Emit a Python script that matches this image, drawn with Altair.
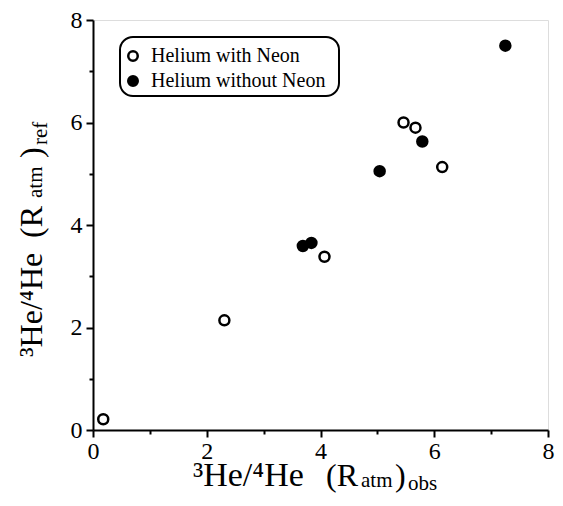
import altair as alt
import pandas as pd

# ---- data ----
series_names = ["Helium with Neon", "Helium without Neon"]
with_neon_obs = [0.18, 2.31, 4.07, 5.46, 5.67, 6.14]
with_neon_ref = [0.21, 2.14, 3.38, 6.00, 5.90, 5.13]
without_neon_obs = [3.69, 3.84, 5.04, 5.79, 7.25]
without_neon_ref = [3.59, 3.65, 5.05, 5.63, 7.50]
tick_values = [0, 1, 2, 3, 4, 5, 6, 7, 8]

df = pd.DataFrame({
    "obs": with_neon_obs + without_neon_obs,
    "ref": with_neon_ref + without_neon_ref,
    "series": [series_names[0]] * len(with_neon_obs) + [series_names[1]] * len(without_neon_obs),
})

FONT = "Liberation Serif"
W, H = 455, 410

tick_size = {"condition": {"test": "datum.value % 2 === 1", "value": 4}, "value": 7}
label_expr = "datum.value % 2 === 0 ? datum.label : ''"

def axis(pad):
    return alt.Axis(values=tick_values, labelExpr=label_expr, tickSize=tick_size,
                    labelFont=FONT, labelFontSize=24, labelColor="black",
                    domainColor="black", domainWidth=2, tickColor="black", tickWidth=2,
                    labelPadding=pad, grid=False, title=None, labelFlush=False)

points = alt.Chart(df).mark_point(shape="circle", filled=True, size=100, strokeWidth=2.5,
                                  stroke="black", opacity=1).encode(
    x=alt.X("obs:Q", scale=alt.Scale(domain=[0, 8], nice=False, zero=False), axis=axis(2)),
    y=alt.Y("ref:Q", scale=alt.Scale(domain=[0, 8], nice=False, zero=False), axis=axis(4)),
    fill=alt.Fill("series:N", scale=alt.Scale(domain=series_names, range=["white", "black"]),
                  legend=alt.Legend(orient="none", legendX=30, legendY=26, title=None,
                                    labelFont=FONT, labelFontSize=20, labelColor="black",
                                    labelLimit=400,
                                    symbolType="circle", symbolSize=90, symbolStrokeWidth=2.5,
                                    symbolStrokeColor="black", rowPadding=5, labelOffset=8,
                                    padding=0)),
)

one = pd.DataFrame({"k": [0]})

legend_box = alt.Chart(one).mark_rect(cornerRadius=13, stroke="black", strokeWidth=2,
                                      fill="white").encode(
    x=alt.value(27), x2=alt.value(246), y=alt.value(17), y2=alt.value(76))

def piece(text, x, y, size, angle=0):
    return alt.Chart(one).mark_text(text=text, font=FONT, fontSize=size, angle=angle,
                                    align="left", baseline="alphabetic", color="black").encode(
        x=alt.value(x), y=alt.value(y))

xt = [
    piece("³He/⁴He", 100, 466, 34),
    piece("(R", 233, 466, 32),
    piece("atm", 268, 467, 21),
    piece(")", 302, 466, 32),
    piece("obs", 315, 470, 21),
]
yt = [
    piece("³He/⁴He", -51, 337, 32, 270),
    piece("(R", -51, 218, 32, 270),
    piece("atm", -51, 178, 21, 270),
    piece(")", -51, 138, 32, 270),
    piece("ref", -46, 125, 21, 270),
]

chart = alt.layer(legend_box, points, *xt, *yt).properties(
    width=W, height=H,
    autosize=alt.AutoSizeParams(type="none"),
    padding={"left": 85, "top": 12, "right": 7, "bottom": 64},
).configure_view(stroke="black", strokeWidth=2).configure(background="white")

chart.save("out.html", embed_options={"renderer": "svg", "actions": False})
